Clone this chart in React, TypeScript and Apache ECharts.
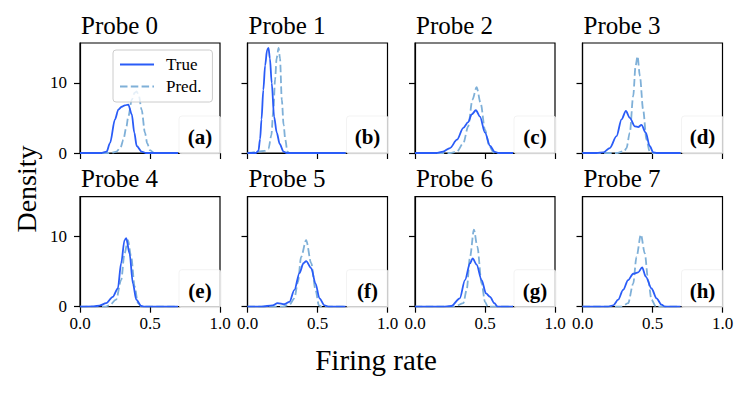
import React, { useEffect, useRef } from "react";
import * as echarts from "echarts";

const probeTitles = ["Probe 0", "Probe 1", "Probe 2", "Probe 3", "Probe 4", "Probe 5", "Probe 6", "Probe 7"];
const panelLabels = ["(a)", "(b)", "(c)", "(d)", "(e)", "(f)", "(g)", "(h)"];
const xTicks = [0, 0.5, 1];
const yTicks = [0, 10];

const probe0True = [[0,0],[0.15,0],[0.19,0.2],[0.214,1.4],[0.25,4.8],[0.274,6.2],[0.298,6.6],[0.32,6.8],[0.345,6.9],[0.37,5.5],[0.388,2.9],[0.405,1.0],[0.44,0.2],[0.47,0],[0.7,0]];
const probe0Pred = [[0,0],[0.22,0],[0.26,0.2],[0.29,0.8],[0.31,1.9],[0.33,3.6],[0.345,5.2],[0.37,7.6],[0.39,8.6],[0.405,8.8],[0.42,8.2],[0.44,6.2],[0.464,2.9],[0.48,1.4],[0.5,0.4],[0.53,0],[0.7,0]];
const probe1True = [[0,0],[0.06,0],[0.078,0.3],[0.09,2],[0.1,4.8],[0.113,9],[0.126,12.5],[0.14,14.7],[0.15,15.0],[0.16,13.5],[0.173,10],[0.19,5.2],[0.209,2.9],[0.23,1.3],[0.257,0.2],[0.28,0],[0.7,0]];
const probe1Pred = [[0,0],[0.03,0.05],[0.08,0.2],[0.12,0.3],[0.15,0.6],[0.17,2.5],[0.185,6.2],[0.197,10.5],[0.208,13.5],[0.222,15.0],[0.232,13.5],[0.245,7.6],[0.258,4],[0.27,1.9],[0.285,0.2],[0.3,0],[0.7,0]];
const probe2True = [[0,0],[0.15,0],[0.2,0.2],[0.25,0.7],[0.3,1.9],[0.345,3.6],[0.38,4.4],[0.405,5.5],[0.435,6.1],[0.464,5.2],[0.5,2.9],[0.536,1.0],[0.57,0.15],[0.6,0],[0.7,0]];
const probe2Pred = [[0,0],[0.25,0],[0.3,0.2],[0.345,1.4],[0.38,3.8],[0.41,7.6],[0.44,9.4],[0.469,7.1],[0.5,3.3],[0.531,1.0],[0.56,0.1],[0.58,0],[0.7,0]];
const probe3True = [[0,0],[0.1,0],[0.15,0.1],[0.195,0.7],[0.243,2.4],[0.279,4.8],[0.31,6.0],[0.338,5.0],[0.374,3.8],[0.398,3.7],[0.421,4.0],[0.452,2.9],[0.48,1.0],[0.505,0.1],[0.53,0],[0.7,0]];
const probe3Pred = [[0,0],[0.25,0],[0.3,0.3],[0.314,0.7],[0.338,2.9],[0.362,8.1],[0.379,12.4],[0.393,13.8],[0.41,11],[0.433,6.2],[0.457,1.9],[0.48,0.2],[0.5,0],[0.7,0]];
const probe4True = [[0,0],[0.1,0.05],[0.139,0.15],[0.187,0.5],[0.234,1.4],[0.27,2.6],[0.294,6.2],[0.318,9.5],[0.33,9.8],[0.354,7.6],[0.378,3.3],[0.402,1.0],[0.438,0.1],[0.46,0],[0.7,0]];
const probe4Pred = [[0,0],[0.18,0],[0.21,0.2],[0.258,1],[0.294,3.8],[0.318,7.6],[0.342,9.5],[0.366,7.1],[0.39,2.9],[0.414,0.5],[0.44,0],[0.7,0]];
const probe5True = [[0,0],[0.1,0],[0.18,0.2],[0.215,0.5],[0.263,0.35],[0.3,0.7],[0.335,2.4],[0.371,4.8],[0.4,6.2],[0.419,6.5],[0.455,5.5],[0.486,3.3],[0.514,1.2],[0.55,0.2],[0.58,0],[0.7,0]];
const probe5Pred = [[0,0],[0.25,0],[0.3,0.3],[0.335,1.2],[0.36,3.5],[0.383,7.1],[0.419,9.5],[0.455,6.2],[0.486,2.4],[0.51,0.2],[0.53,0],[0.7,0]];
const probe6True = [[0,0],[0.2,0],[0.26,0.1],[0.32,1.2],[0.357,3.8],[0.393,6.2],[0.412,6.9],[0.44,6.0],[0.476,3.8],[0.507,1.9],[0.536,1.4],[0.567,0.5],[0.59,0],[0.7,0]];
const probe6Pred = [[0,0],[0.28,0],[0.345,0.5],[0.369,2.4],[0.393,7.1],[0.421,11],[0.445,8.6],[0.476,3.3],[0.5,0.7],[0.52,0],[0.7,0]];
const probe7True = [[0,0],[0.18,0],[0.22,0.2],[0.255,1.0],[0.29,2.4],[0.326,3.8],[0.362,4.7],[0.398,4.9],[0.426,5.6],[0.452,4.3],[0.493,2.6],[0.529,1.2],[0.564,0.3],[0.59,0],[0.7,0]];
const probe7Pred = [[0,0],[0.28,0],[0.326,0.5],[0.362,3.3],[0.386,7.1],[0.417,10.3],[0.445,7.6],[0.469,3.8],[0.493,1.0],[0.524,0],[0.7,0]];

const trueSeries = [probe0True, probe1True, probe2True, probe3True, probe4True, probe5True, probe6True, probe7True];
const predSeries = [probe0Pred, probe1Pred, probe2Pred, probe3Pred, probe4Pred, probe5Pred, probe6Pred, probe7Pred];

const FONT = '"Liberation Serif", serif';
const TRUE_COLOR = "#2a5cf7";
const PRED_COLOR = "#7fb0d8";

export default function App() {
  const ref = useRef<HTMLDivElement>(null);
  useEffect(() => {
    if (!ref.current) return;
    const chart = echarts.init(ref.current, undefined, { renderer: "svg" });
    const lefts = [80, 247.5, 415, 582.5];
    const tops = [43, 196.7];
    const W = 140;
    const H = 110;
    const grids: any[] = [];
    const xAxes: any[] = [];
    const yAxes: any[] = [];
    const series: any[] = [];
    const graphics: any[] = [];
    for (let i = 0; i < 8; i++) {
      const col = i % 4;
      const row = Math.floor(i / 4);
      const left = lefts[col];
      const top = tops[row];
      grids.push({ left, top, width: W, height: H, show: true, borderColor: "#000", borderWidth: 1.2, backgroundColor: "transparent" });
      xAxes.push({
        gridIndex: i, type: "value", min: 0, max: 1, interval: 0.5,
        axisLine: { show: true, onZero: false, lineStyle: { color: "#000", width: 1.2 } },
        axisTick: { show: true, length: 6, customValues: xTicks, lineStyle: { color: "#000", width: 1.2 } },
        axisLabel: { show: row === 1, customValues: xTicks, formatter: (v: number) => v.toFixed(1), fontFamily: FONT, fontSize: 17, color: "#000", margin: 8 },
        splitLine: { show: false },
      });
      yAxes.push({
        gridIndex: i, type: "value", min: 0, max: 15.7, interval: 10,
        axisLine: { show: true, onZero: false, lineStyle: { color: "#000", width: 1.2 } },
        axisTick: { show: true, length: 6, customValues: yTicks, lineStyle: { color: "#000", width: 1.2 } },
        axisLabel: { show: col === 0, customValues: yTicks, fontFamily: FONT, fontSize: 17, color: "#000", margin: 13 },
        splitLine: { show: false },
      });
      series.push({
        name: "True", type: "line", xAxisIndex: i, yAxisIndex: i, data: trueSeries[i],
        showSymbol: false, symbol: "none", smooth: 0.3, smoothMonotone: "x",
        lineStyle: { color: TRUE_COLOR, width: 1.8 }, itemStyle: { color: TRUE_COLOR }, z: 3,
      });
      series.push({
        name: "Pred.", type: "line", xAxisIndex: i, yAxisIndex: i, data: predSeries[i],
        showSymbol: false, symbol: "none", smooth: 0.3, smoothMonotone: "x",
        lineStyle: { color: PRED_COLOR, width: 1.8, type: [7.5, 3.3] }, itemStyle: { color: PRED_COLOR }, z: 2,
      });
      graphics.push({
        type: "text", x: left + 1, y: top - 18, z: 100,
        style: { text: probeTitles[i], font: `25px ${FONT}`, fill: "#000", textAlign: "left", textVerticalAlign: "middle" },
      });
      graphics.push({
        type: "rect", z: 100,
        shape: { x: left + W - 41, y: top + H - 37, width: 42, height: 38, r: 3 },
        style: { fill: "rgba(255,255,255,0.8)", stroke: "rgba(235,235,235,0.6)", lineWidth: 1 },
      });
      graphics.push({
        type: "text", x: left + W - 20, y: top + H - 16, z: 101,
        style: { text: panelLabels[i], font: `bold 21px ${FONT}`, fill: "#000", textAlign: "center", textVerticalAlign: "middle" },
      });
    }
    graphics.push({
      type: "text", x: 26, y: 189, rotation: Math.PI / 2, z: 100,
      style: { text: "Density", font: `28px ${FONT}`, fill: "#000", textAlign: "center", textVerticalAlign: "middle" },
    });
    graphics.push({
      type: "text", x: 376, y: 360, z: 100,
      style: { text: "Firing rate", font: `29px ${FONT}`, fill: "#000", textAlign: "center", textVerticalAlign: "middle" },
    });
    chart.setOption({
      animation: false,
      backgroundColor: "#fff",
      grid: grids,
      xAxis: xAxes,
      yAxis: yAxes,
      series,
      legend: {
        data: ["True", "Pred."], orient: "vertical", left: 113, top: 50,
        itemWidth: 34, itemHeight: 2, itemGap: 5,
        padding: [6, 11, 7, 6],
        itemStyle: { opacity: 0 },
        backgroundColor: "rgba(255,255,255,0.8)", borderColor: "#cccccc", borderWidth: 1, borderRadius: 3,
        textStyle: { fontFamily: FONT, fontSize: 17, color: "#000", padding: [0, 0, 0, 7] },
        z: 10,
      },
      graphic: { elements: graphics },
    });
    return () => chart.dispose();
  }, []);
  return <div ref={ref} style={{ position: "absolute", left: 0, top: 0, width: 748, height: 396 }} />;
}
